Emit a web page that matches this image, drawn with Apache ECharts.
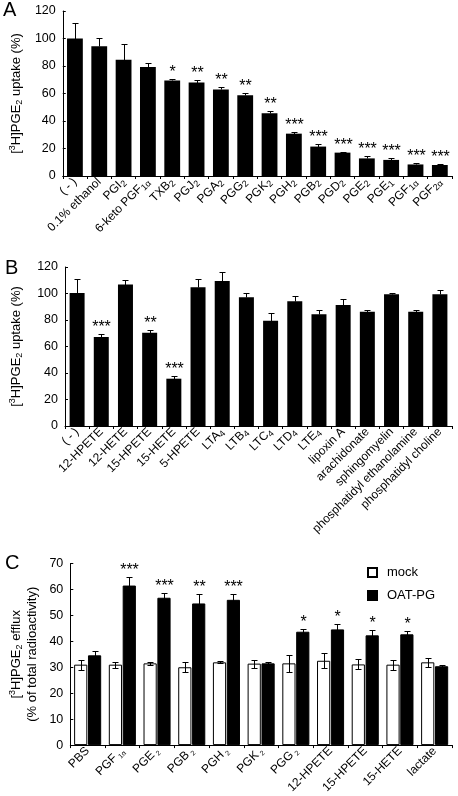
<!DOCTYPE html>
<html><head><meta charset="utf-8">
<script src="https://cdn.jsdelivr.net/npm/echarts@6/dist/echarts.min.js"></script>
<style>html,body{margin:0;padding:0;background:#fff}#c{width:458px;height:796px}</style>
</head><body><div id="c"></div>
<script>
// ---------- Panel A ----------
const catsA = ['( - )', '0.1% ethanol', 'PGI_2', '6-keto PGF_1α', 'TXB_2', 'PGJ_2', 'PGA_2', 'PGG_2', 'PGK_2', 'PGH_2', 'PGB_2', 'PGD_2', 'PGE_2', 'PGE_1', 'PGF_1α', 'PGF_2α'];
const valsA = [100, 94.3, 84.5, 79.2, 69.5, 68, 63, 58.8, 45.6, 30.8, 21.4, 17, 12.8, 11.7, 8.4, 8];
const errA  = [11.5, 6.2, 11.7, 3.2, 1.2, 1.6, 1.6, 1.9, 2, 1.5, 2.2, 0.5, 1.4, 1.4, 0.8, 1];
const sigA  = ['', '', '', '', '*', '**', '**', '**', '**', '***', '***', '***', '***', '***', '***', '***'];

// ---------- Panel B ----------
const catsB = ['( - )', '12-HPETE', '12-HETE', '15-HPETE', '15-HETE', '5-HPETE', 'LTA_4', 'LTB_4', 'LTC_4', 'LTD_4', 'LTE_4', 'lipoxin A', 'arachidonate', 'sphingomyelin', 'phosphatidyl ethanolamine', 'phosphatidyl choline'];
const valsB = [100.4, 67.2, 106.7, 70.4, 35.7, 104.7, 109.4, 97.1, 79.5, 94.1, 84.3, 91.3, 86.3, 99.4, 86.3, 99.4];
const errB  = [10.8, 2.5, 3.7, 2.3, 1.8, 6.5, 6.8, 3.5, 6, 4, 3.5, 4.5, 1.5, 0.7, 1.5, 3.5];
const sigB  = ['', '***', '', '**', '***', '', '', '', '', '', '', '', '', '', '', ''];

// ---------- Panel C ----------
const catsC = ['PBS', 'PGF_1α', 'PGE_2', 'PGB_2', 'PGH_2', 'PGK_2', 'PGG_2', '12-HPETE', '15-HPETE', '15-HETE', 'lactate'];
const mockC = [31, 31, 31.5, 30, 31.9, 31.4, 31.5, 32.5, 31.1, 31, 31.9];
const mockErr = [1.9, 1.1, 0.5, 1.9, 0.4, 1.5, 3.4, 2.9, 1.9, 1.9, 1.8];
const oatC = [34.6, 61.5, 56.8, 54.6, 56, 31.5, 43.7, 44.6, 42.3, 42.7, 30.4];
const oatErr = [1.6, 3.2, 1.9, 3.6, 2.4, 0.5, 1, 2, 2, 1.4, 0.6];
const sigC = ['', '***', '***', '**', '***', '', '*', '*', '*', '*', ''];
const seriesNamesC = ['mock', 'OAT-PG'];

const ticksA = [0, 20, 40, 60, 80, 100, 120];
const ticksC = [0, 10, 20, 30, 40, 50, 60, 70];

const FF = "'Liberation Sans', Arial, sans-serif";

function fmtLabel(v) {
  const k = v.indexOf('_');
  if (k < 0) return '{n|' + v + '}';
  return '{n|' + v.slice(0, k) + '}{s|' + v.slice(k + 1) + '}';
}
const labelRich = {
  n: { fontSize: 12, fontFamily: FF, color: '#000', lineHeight: 15 },
  s: { fontSize: 9, fontFamily: FF, color: '#000', lineHeight: 9, verticalAlign: 'bottom' }
};
const labelRichC = {
  n: { fontSize: 12, fontFamily: FF, color: '#000', lineHeight: 15 },
  s: { fontSize: 7, fontFamily: FF, color: '#000', lineHeight: 8, verticalAlign: 'bottom', padding: [0, 0, 0, 2] }
};
const nameRich = {
  n: { fontSize: 13, fontFamily: FF, color: '#000', lineHeight: 16 },
  sup: { fontSize: 9, fontFamily: FF, color: '#000', lineHeight: 9, verticalAlign: 'top' },
  sub: { fontSize: 9, fontFamily: FF, color: '#000', lineHeight: 9, verticalAlign: 'bottom' }
};

function xAxisCfg(idx, cats, rich) {
  return {
    type: 'category', gridIndex: idx, data: cats,
    axisLine: { show: true, lineStyle: { color: '#000', width: 1 } },
    axisTick: { show: true, inside: false, length: 3, lineStyle: { color: '#000' } },
    axisLabel: { rotate: 45, interval: 0, margin: 4, formatter: fmtLabel, rich: rich }
  };
}
function yAxisCfg(idx, ticks, name, gap) {
  return {
    type: 'value', gridIndex: idx, min: ticks[0], max: ticks[ticks.length - 1],
    interval: ticks[1] - ticks[0],
    name: name, nameLocation: 'middle', nameGap: gap, nameRotate: 90,
    nameTextStyle: { rich: nameRich },
    splitLine: { show: false },
    axisLine: { show: true, lineStyle: { color: '#000', width: 1 } },
    axisTick: { show: true, inside: true, length: 3, lineStyle: { color: '#000' } },
    axisLabel: { color: '#000', fontSize: 12.5, fontFamily: FF, margin: 7 }
  };
}

function errSeries(idx, vals, errs, stars, side, both) {
  return {
    type: 'custom', xAxisIndex: idx, yAxisIndex: idx, z: 10, silent: true,
    data: vals.map((v, i) => [i, v, errs[i]]),
    renderItem: function (params, api) {
      const i = api.value(0), v = api.value(1), e = api.value(2);
      const bw = api.size([1, 0])[0];
      let dx = 0;
      if (side !== 0) {
        const barW = bw * 0.78 / 2.05;
        dx = side * barW * 1.05 / 2;
      }
      const p = api.coord([i, v]);
      const t = api.coord([i, v + e]);
      const b = api.coord([i, both ? v - e : v]);
      const x = Math.round(p[0] + dx) + 0.5;
      const ty = Math.round(t[1]) + 0.5, by = Math.round(b[1]) + 0.5;
      const ls = { stroke: '#000', lineWidth: 1 };
      const ch = [
        { type: 'line', shape: { x1: x, y1: by, x2: x, y2: ty }, style: ls },
        { type: 'line', shape: { x1: x - 3, y1: ty, x2: x + 3, y2: ty }, style: ls }
      ];
      if (both) ch.push({ type: 'line', shape: { x1: x - 3, y1: by, x2: x + 3, y2: by }, style: ls });
      const s = stars[params.dataIndex];
      if (s) ch.push({ type: 'text', style: { text: s, x: x, y: ty + 1, align: 'center', verticalAlign: 'bottom', font: '16px ' + FF, fill: '#000' } });
      return { type: 'group', children: ch };
    }
  };
}

const chart = echarts.init(document.getElementById('c'), null, { renderer: 'canvas' });
chart.setOption({
  animation: false,
  backgroundColor: '#fff',
  textStyle: { fontFamily: FF, color: '#000' },
  grid: [
    { left: 58, top: 11, width: 394, height: 165 },
    { left: 61.5, top: 267, width: 390.5, height: 159 },
    { left: 53.5, top: 563.5, width: 398.5, height: 184.3 }
  ],
  graphic: [
    { type: 'text', left: 3, top: 0, style: { text: 'A', font: '20px ' + FF, fill: '#000' } },
    { type: 'text', left: 5, top: 258, style: { text: 'B', font: '20px ' + FF, fill: '#000' } },
    { type: 'text', left: 5, top: 553, style: { text: 'C', font: '20px ' + FF, fill: '#000' } }
  ],
  legend: {
    data: seriesNamesC, orient: 'vertical', left: 362, top: 561,
    itemWidth: 9, itemHeight: 9, itemGap: 10, icon: 'rect',
    textStyle: { fontSize: 13, fontFamily: FF, color: '#000', padding: [0, 0, 0, 5] }
  },
  xAxis: [xAxisCfg(0, catsA, labelRich), xAxisCfg(1, catsB, labelRich), xAxisCfg(2, catsC, labelRichC)],
  yAxis: [
    yAxisCfg(0, ticksA, '{n|[}{sup|3}{n|H]PGE}{sub|2}{n| uptake (%)}', 38),
    yAxisCfg(1, ticksA, '{n|[}{sup|3}{n|H]PGE}{sub|2}{n| uptake (%)}', 41),
    yAxisCfg(2, ticksC, '{n|[}{sup|3}{n|H]PGE}{sub|2}{n| efflux}\n{n|(% of total radioactivity)}', 25)
  ],
  series: [
    { type: 'bar', xAxisIndex: 0, yAxisIndex: 0, data: valsA, barCategoryGap: '35%', itemStyle: { color: '#000' } },
    errSeries(0, valsA, errA, sigA, 0, false),
    { type: 'bar', xAxisIndex: 1, yAxisIndex: 1, data: valsB, barCategoryGap: '38%', itemStyle: { color: '#000' } },
    errSeries(1, valsB, errB, sigB, 0, false),
    { type: 'bar', name: seriesNamesC[0], xAxisIndex: 2, yAxisIndex: 2, data: mockC, barCategoryGap: '22%', barGap: '5%', itemStyle: { color: '#fff', borderColor: '#000', borderWidth: 1 } },
    { type: 'bar', name: seriesNamesC[1], xAxisIndex: 2, yAxisIndex: 2, data: oatC, barCategoryGap: '22%', barGap: '5%', itemStyle: { color: '#000', borderColor: '#000', borderWidth: 1 } },
    errSeries(2, mockC, mockErr, [], -1, true),
    errSeries(2, oatC, oatErr, sigC, 1, true)
  ]
});
</script>
</body></html>
